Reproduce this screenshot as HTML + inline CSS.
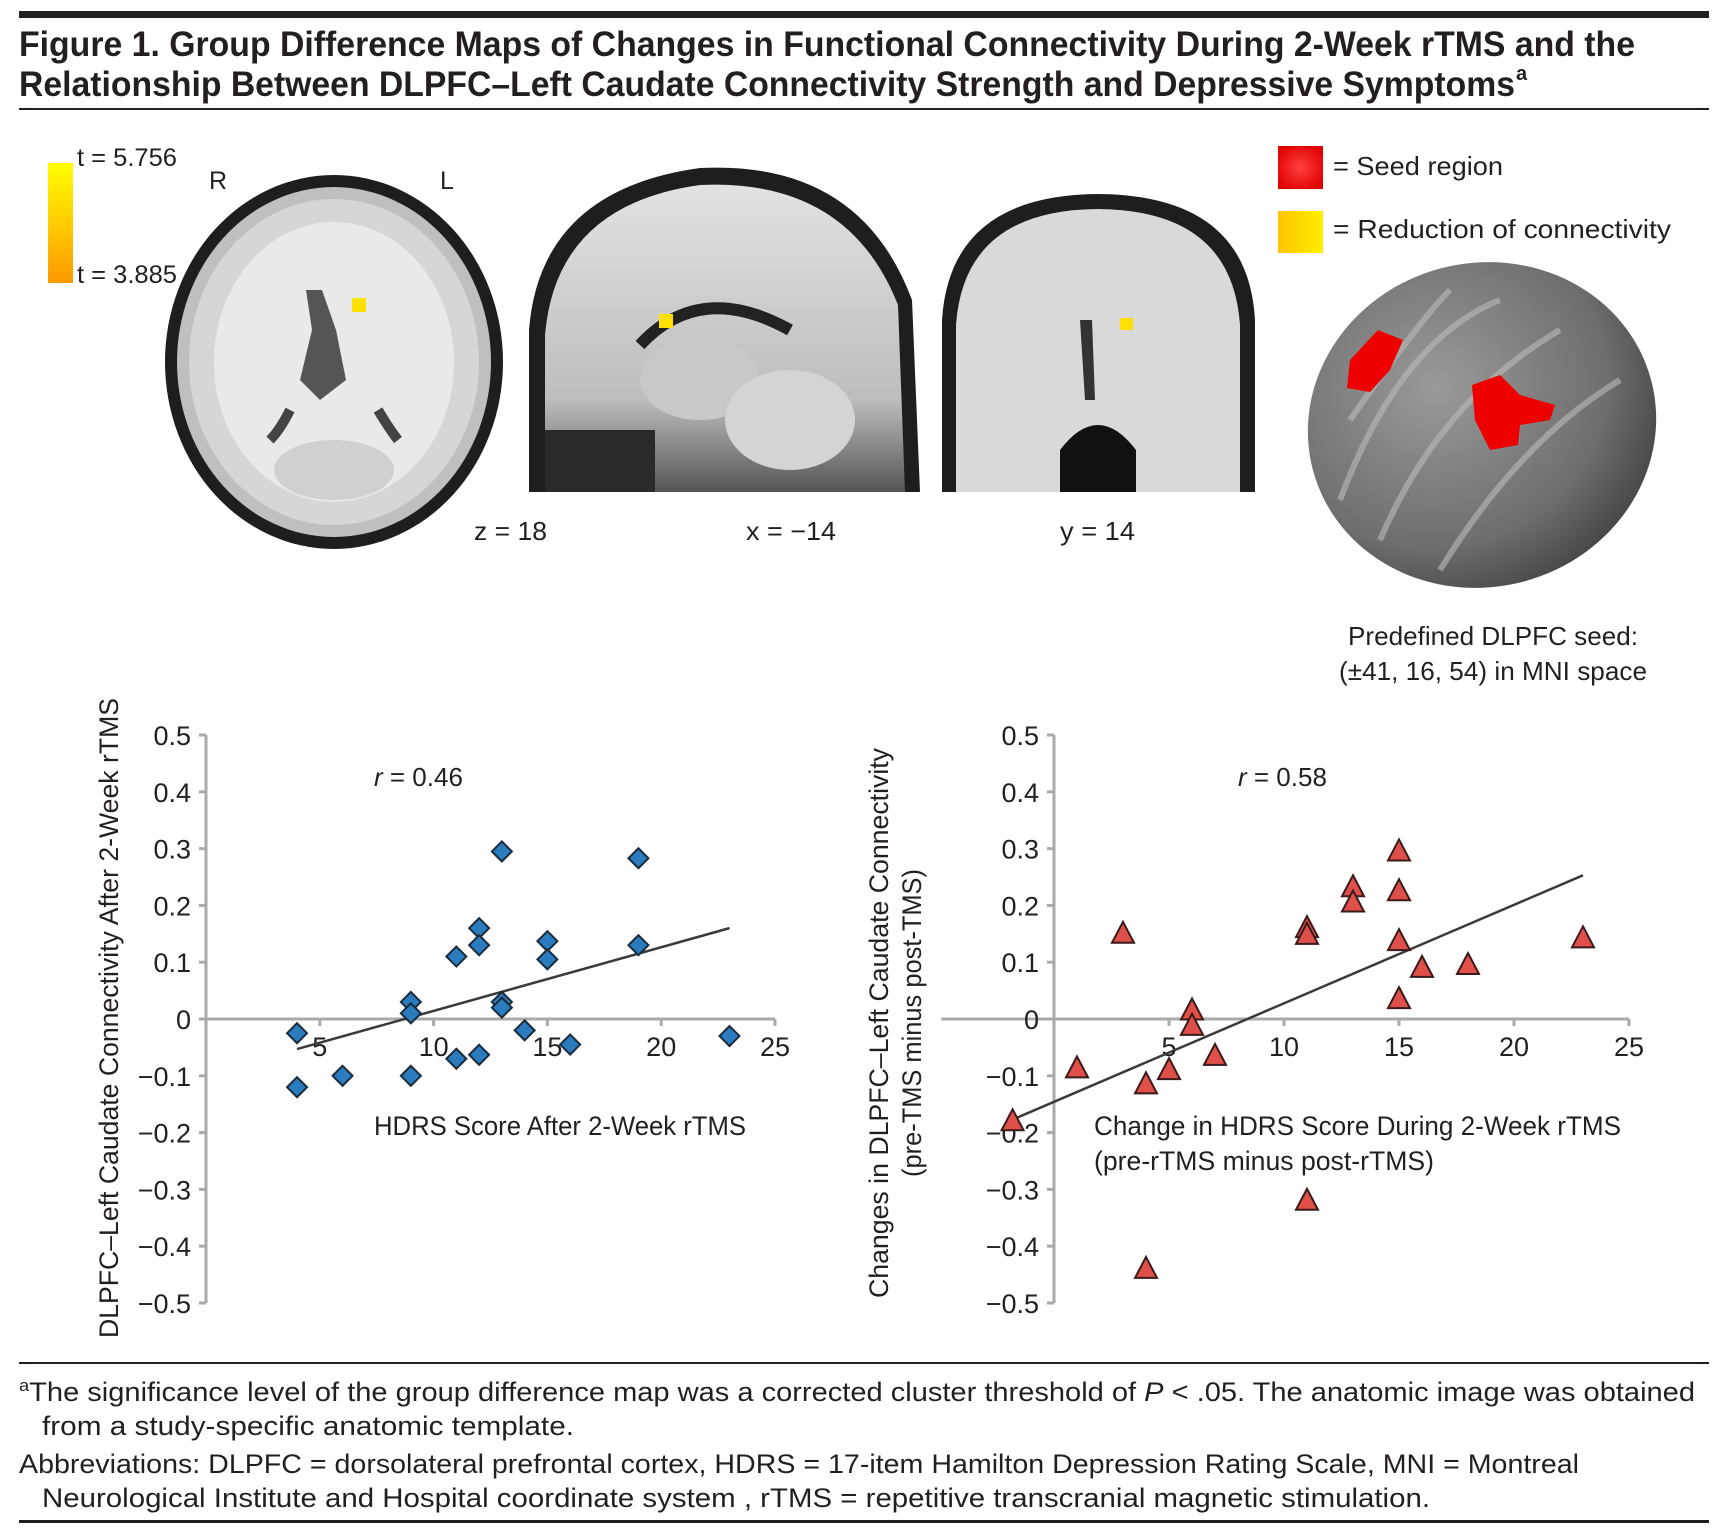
<!DOCTYPE html>
<html><head><meta charset="utf-8"><style>
html,body{margin:0;padding:0;background:#fff}
svg{display:block;font-family:"Liberation Sans",sans-serif}
</style></head><body>
<svg id="fig" width="1721" height="1531" viewBox="0 0 1721 1531" xmlns="http://www.w3.org/2000/svg">
<defs>
<linearGradient id="cbar" x1="0" y1="0" x2="0" y2="1"><stop offset="0" stop-color="#ffff00"/><stop offset="1" stop-color="#ff9900"/></linearGradient>
<linearGradient id="yel" x1="0" y1="0" x2="1" y2="0"><stop offset="0" stop-color="#ffc400"/><stop offset="1" stop-color="#ffee00"/></linearGradient>
<radialGradient id="redg" cx="0.5" cy="0.5" r="0.6"><stop offset="0" stop-color="#ff4040"/><stop offset="1" stop-color="#e00000"/></radialGradient>
<radialGradient id="brainA" cx="0.5" cy="0.5" r="0.55"><stop offset="0" stop-color="#d8d8d8"/><stop offset="0.7" stop-color="#e6e6e6"/><stop offset="0.9" stop-color="#8a8a8a"/><stop offset="1" stop-color="#202020"/></radialGradient>
<radialGradient id="brain3d" cx="0.4" cy="0.35" r="0.7"><stop offset="0" stop-color="#9a9a9a"/><stop offset="0.7" stop-color="#6e6e6e"/><stop offset="1" stop-color="#444"/></radialGradient>
<linearGradient id="sagg" x1="0" y1="0" x2="0" y2="1"><stop offset="0" stop-color="#e2e2e2"/><stop offset="0.7" stop-color="#bdbdbd"/><stop offset="1" stop-color="#555"/></linearGradient>
</defs>

<!-- header -->
<rect x="19" y="11" width="1690" height="7" fill="#231f20"/>
<text x="19" y="56" font-size="35" font-weight="bold" fill="#231f20" textLength="1616" lengthAdjust="spacingAndGlyphs">Figure 1. Group Difference Maps of Changes in Functional Connectivity During 2-Week rTMS and the</text>
<text x="19" y="96" font-size="35" font-weight="bold" fill="#231f20" textLength="1496" lengthAdjust="spacingAndGlyphs">Relationship Between DLPFC–Left Caudate Connectivity Strength and Depressive Symptoms</text>
<text x="1516" y="80" font-size="20" font-weight="bold" fill="#231f20">a</text>
<rect x="19" y="108" width="1690" height="2" fill="#231f20"/>

<!-- color bar -->
<rect x="48" y="163" width="25" height="120" fill="url(#cbar)"/>
<text x="77" y="166" font-size="25" fill="#231f20" textLength="100" lengthAdjust="spacingAndGlyphs">t = 5.756</text>
<text x="77" y="283" font-size="25" fill="#231f20" textLength="100" lengthAdjust="spacingAndGlyphs">t = 3.885</text>

<!-- axial slice -->
<g>
<ellipse cx="334" cy="362" rx="169" ry="187" fill="#1e1e1e"/>
<ellipse cx="334" cy="362" rx="157" ry="175" fill="#bfbfbf"/>
<ellipse cx="334" cy="362" rx="145" ry="163" fill="#d6d6d6"/>
<ellipse cx="334" cy="362" rx="120" ry="140" fill="#e9e9e9"/>
<path d="M306 290 L322 290 L336 330 L346 380 L320 400 L300 380 L312 330 Z" fill="#555"/>
<path d="M290 410 Q280 430 270 440 M378 410 Q390 430 398 440" stroke="#444" stroke-width="10" fill="none"/>
<ellipse cx="334" cy="470" rx="60" ry="30" fill="#d0d0d0"/>
<rect x="352" y="298" width="14" height="14" fill="#ffe000"/>
</g>
<text x="209" y="189" font-size="25" fill="#231f20">R</text>
<text x="440" y="189" font-size="25" fill="#231f20">L</text>
<text x="474" y="540" font-size="26" fill="#231f20" textLength="73" lengthAdjust="spacingAndGlyphs">z = 18</text>

<!-- sagittal slice -->
<g>
<path d="M529 492 L529 330 Q540 190 700 168 Q860 160 912 300 L920 492 Z" fill="#1e1e1e"/>
<path d="M545 492 L545 335 Q556 205 700 185 Q848 178 898 305 L905 492 Z" fill="url(#sagg)"/>
<path d="M640 345 Q700 280 790 330" stroke="#222" stroke-width="12" fill="none"/>
<ellipse cx="700" cy="380" rx="60" ry="40" fill="#c8c8c8"/>
<ellipse cx="790" cy="420" rx="65" ry="50" fill="#d4d4d4"/>
<rect x="545" y="430" width="110" height="62" fill="#2a2a2a"/>
<rect x="659" y="314" width="14" height="14" fill="#ffe000"/>
</g>
<text x="746" y="540" font-size="26" fill="#231f20" textLength="90" lengthAdjust="spacingAndGlyphs">x = −14</text>

<!-- coronal slice -->
<g>
<path d="M942 492 L942 320 Q950 195 1098 194 Q1248 195 1255 320 L1255 492 Z" fill="#1e1e1e"/>
<path d="M956 492 L956 325 Q964 210 1098 209 Q1232 210 1240 325 L1240 492 Z" fill="#d9d9d9"/>
<path d="M1080 320 L1092 320 L1095 400 L1085 400 Z" fill="#333"/>
<path d="M1060 450 Q1098 400 1136 450 L1136 492 L1060 492 Z" fill="#111"/>
<rect x="1120" y="318" width="13" height="12" fill="#ffe000"/>
</g>
<text x="1060" y="540" font-size="26" fill="#231f20" textLength="75" lengthAdjust="spacingAndGlyphs">y = 14</text>

<!-- legend -->
<rect x="1278" y="146" width="45" height="43" fill="url(#redg)"/>
<text x="1333" y="175" font-size="26" fill="#231f20" textLength="170" lengthAdjust="spacingAndGlyphs">= Seed region</text>
<rect x="1278" y="211" width="45" height="42" fill="url(#yel)"/>
<text x="1333" y="238" font-size="26" fill="#231f20" textLength="338" lengthAdjust="spacingAndGlyphs">= Reduction of connectivity</text>

<!-- 3D brain -->
<g>
<ellipse cx="1482" cy="425" rx="175" ry="162" fill="url(#brain3d)" transform="rotate(-15 1482 425)"/>
<path d="M1340 500 Q1400 340 1500 300 M1380 540 Q1440 400 1560 330 M1440 570 Q1520 440 1620 380 M1350 420 Q1420 320 1450 290" stroke="#bbb" stroke-width="6" fill="none" opacity="0.6"/>
<path d="M1350 360 L1378 330 L1403 340 L1390 370 L1370 392 L1347 388 Z" fill="#ee0000"/>
<path d="M1472 385 L1500 375 L1520 395 L1555 405 L1550 420 L1520 425 L1518 445 L1490 450 L1475 420 Z" fill="#ee0000"/>
</g>
<text x="1493" y="645" font-size="26" fill="#231f20" text-anchor="middle" textLength="290" lengthAdjust="spacingAndGlyphs">Predefined DLPFC seed:</text>
<text x="1493" y="680" font-size="26" fill="#231f20" text-anchor="middle" textLength="308" lengthAdjust="spacingAndGlyphs">(±41, 16, 54) in MNI space</text>

<g id="chartL"></g>
<g id="chartR"></g>

<!-- footnotes -->
<rect x="19" y="1362" width="1690" height="2" fill="#231f20"/>
<text x="19" y="1401" font-size="27" fill="#231f20" textLength="1676" lengthAdjust="spacingAndGlyphs"><tspan font-size="17" dy="-10">a</tspan><tspan dy="10">The significance level of the group difference map was a corrected cluster threshold of </tspan><tspan font-style="italic">P</tspan> &lt; .05. The anatomic image was obtained</text>
<text x="42" y="1435" font-size="27" fill="#231f20" textLength="532" lengthAdjust="spacingAndGlyphs">from a study-specific anatomic template.</text>
<text x="19" y="1473" font-size="27" fill="#231f20" textLength="1560" lengthAdjust="spacingAndGlyphs">Abbreviations: DLPFC = dorsolateral prefrontal cortex, HDRS = 17-item Hamilton Depression Rating Scale, MNI = Montreal</text>
<text x="42" y="1507" font-size="27" fill="#231f20" textLength="1388" lengthAdjust="spacingAndGlyphs">Neurological Institute and Hospital coordinate system , rTMS = repetitive transcranial magnetic stimulation.</text>
<rect x="19" y="1520" width="1690" height="3" fill="#231f20"/>
</svg>
<script>
const yTicks = [0.5, 0.4, 0.3, 0.2, 0.1, 0, -0.1, -0.2, -0.3, -0.4, -0.5];
const yTickLabels = ["0.5","0.4","0.3","0.2","0.1","0","\u22120.1","\u22120.2","\u22120.3","\u22120.4","\u22120.5"];
const xTicks = [5, 10, 15, 20, 25];
const xTickLabels = ["5","10","15","20","25"];
const leftX = [4,4,6,9,9,9,11,11,12,12,12,13,13,13,14,15,15,16,19,19,23];
const leftY = [-0.025,-0.12,-0.1,0.03,0.01,-0.1,0.11,-0.07,0.16,0.13,-0.063,0.295,0.03,0.02,-0.02,0.137,0.105,-0.045,0.283,0.13,-0.03];
const leftFitX = [4, 23];
const leftFitY = [-0.053, 0.16];
const rightX = [-1.8,1,3,4,4,5,6,6,7,11,11,11,13,13,15,15,15,15,16,18,23];
const rightY = [-0.18,-0.087,0.15,-0.115,-0.44,-0.09,0.015,-0.012,-0.065,0.16,0.148,-0.32,0.232,0.205,0.295,0.225,0.137,0.035,0.09,0.095,0.142];
const rightFitX = [-1.8, 23];
const rightFitY = [-0.177, 0.253];

const NS = "http://www.w3.org/2000/svg";
function mk(tag, attrs, parent){const e=document.createElementNS(NS,tag);for(const k in attrs)e.setAttribute(k,attrs[k]);parent.appendChild(e);return e;}

function drawChart(g, cfg){
  const sx = v => cfg.x0 + v*cfg.xu;
  const sy = v => cfg.yZero - v*cfg.yu;
  const ax = mk("line",{x1:sx(0),y1:sy(0.5),x2:sx(0),y2:sy(-0.5),stroke:"#aaa","stroke-width":3},g);
  
  
  const xl = mk("line",{x1:sx(cfg.xMin),y1:sy(0),x2:sx(25),y2:sy(0),stroke:"#aaa","stroke-width":3},g);
  
  
  yTicks.forEach((v,i)=>{
    const t = mk("line",{x1:sx(0)-7,y1:sy(v),x2:sx(0),y2:sy(v),stroke:"#aaa","stroke-width":3},g);
    
    
    const l = mk("text",{x:sx(0)-15,y:sy(v)+10,"font-size":27,fill:"#231f20","text-anchor":"end"},g);
    l.textContent = yTickLabels[i];
    
    
  });
  xTicks.forEach((v,i)=>{
    const t = mk("line",{x1:sx(v),y1:sy(0),x2:sx(v),y2:sy(0)+7,stroke:"#aaa","stroke-width":3},g);
    
    
    const l = mk("text",{x:sx(v),y:sy(0)+37,"font-size":27,fill:"#231f20","text-anchor":"middle"},g);
    l.textContent = xTickLabels[i];
    
    
  });
  const fit = mk("line",{x1:sx(cfg.fitX[0]),y1:sy(cfg.fitY[0]),x2:sx(cfg.fitX[1]),y2:sy(cfg.fitY[1]),stroke:"#3a3a3a","stroke-width":2.5},g);
  
  
  cfg.xs.forEach((xv,i)=>{
    const cx = sx(xv), cy = sy(cfg.ys[i]);
    let m;
    if(cfg.marker==="diamond"){
      m = mk("polygon",{points:`${cx},${cy-10} ${cx+10},${cy} ${cx},${cy+10} ${cx-10},${cy}`,fill:"#2b7bbf",stroke:"#1a2b3a","stroke-width":2},g);
    } else {
      m = mk("polygon",{points:`${cx},${cy-12} ${cx+11},${cy+9} ${cx-11},${cy+9}`,fill:"#e0504a",stroke:"#3a1a1a","stroke-width":2},g);
    }
    
    
  });
}

const gL = document.getElementById("chartL");
drawChart(gL,{x0:206,xu:22.76,yZero:1019,yu:568,xMin:0,xs:leftX,ys:leftY,fitX:leftFitX,fitY:leftFitY,marker:"diamond"});
const gR = document.getElementById("chartR");
drawChart(gR,{x0:1054,xu:23,yZero:1019,yu:568,xMin:-4.9,xs:rightX,ys:rightY,fitX:rightFitX,fitY:rightFitY,marker:"triangle"});

function txt(g,attrs,content,name,html){const t=mk("text",attrs,g);if(html)t.innerHTML=content;else t.textContent=content;return t;}
txt(gL,{x:374,y:786,"font-size":26,fill:"#231f20"},'<tspan font-style="italic">r</tspan> = 0.46','correlation-label',true);
txt(gL,{x:374,y:1135,"font-size":27,fill:"#231f20",textLength:372,lengthAdjust:"spacingAndGlyphs"},"HDRS Score After 2-Week rTMS",'x-axis-title');
txt(gL,{x:0,y:0,"font-size":27,fill:"#231f20","text-anchor":"middle",textLength:640,lengthAdjust:"spacingAndGlyphs",transform:"translate(118,1018) rotate(-90)"},"DLPFC–Left Caudate Connectivity After 2-Week rTMS",'y-axis-title');
txt(gR,{x:1238,y:786,"font-size":26,fill:"#231f20"},'<tspan font-style="italic">r</tspan> = 0.58','correlation-label',true);
txt(gR,{x:1094,y:1135,"font-size":27,fill:"#231f20",textLength:527,lengthAdjust:"spacingAndGlyphs"},"Change in HDRS Score During 2-Week rTMS",'x-axis-title-line-1');
txt(gR,{x:1094,y:1170,"font-size":27,fill:"#231f20",textLength:340,lengthAdjust:"spacingAndGlyphs"},"(pre-rTMS minus post-rTMS)",'x-axis-title-line-2');
txt(gR,{x:0,y:0,"font-size":27,fill:"#231f20","text-anchor":"middle",textLength:550,lengthAdjust:"spacingAndGlyphs",transform:"translate(888,1023) rotate(-90)"},"Changes in DLPFC–Left Caudate Connectivity",'y-axis-title-line-1');
txt(gR,{x:0,y:0,"font-size":27,fill:"#231f20","text-anchor":"middle",textLength:308,lengthAdjust:"spacingAndGlyphs",transform:"translate(921,1023) rotate(-90)"},"(pre-TMS minus post-TMS)",'y-axis-title-line-2');
</script>
</body></html>
